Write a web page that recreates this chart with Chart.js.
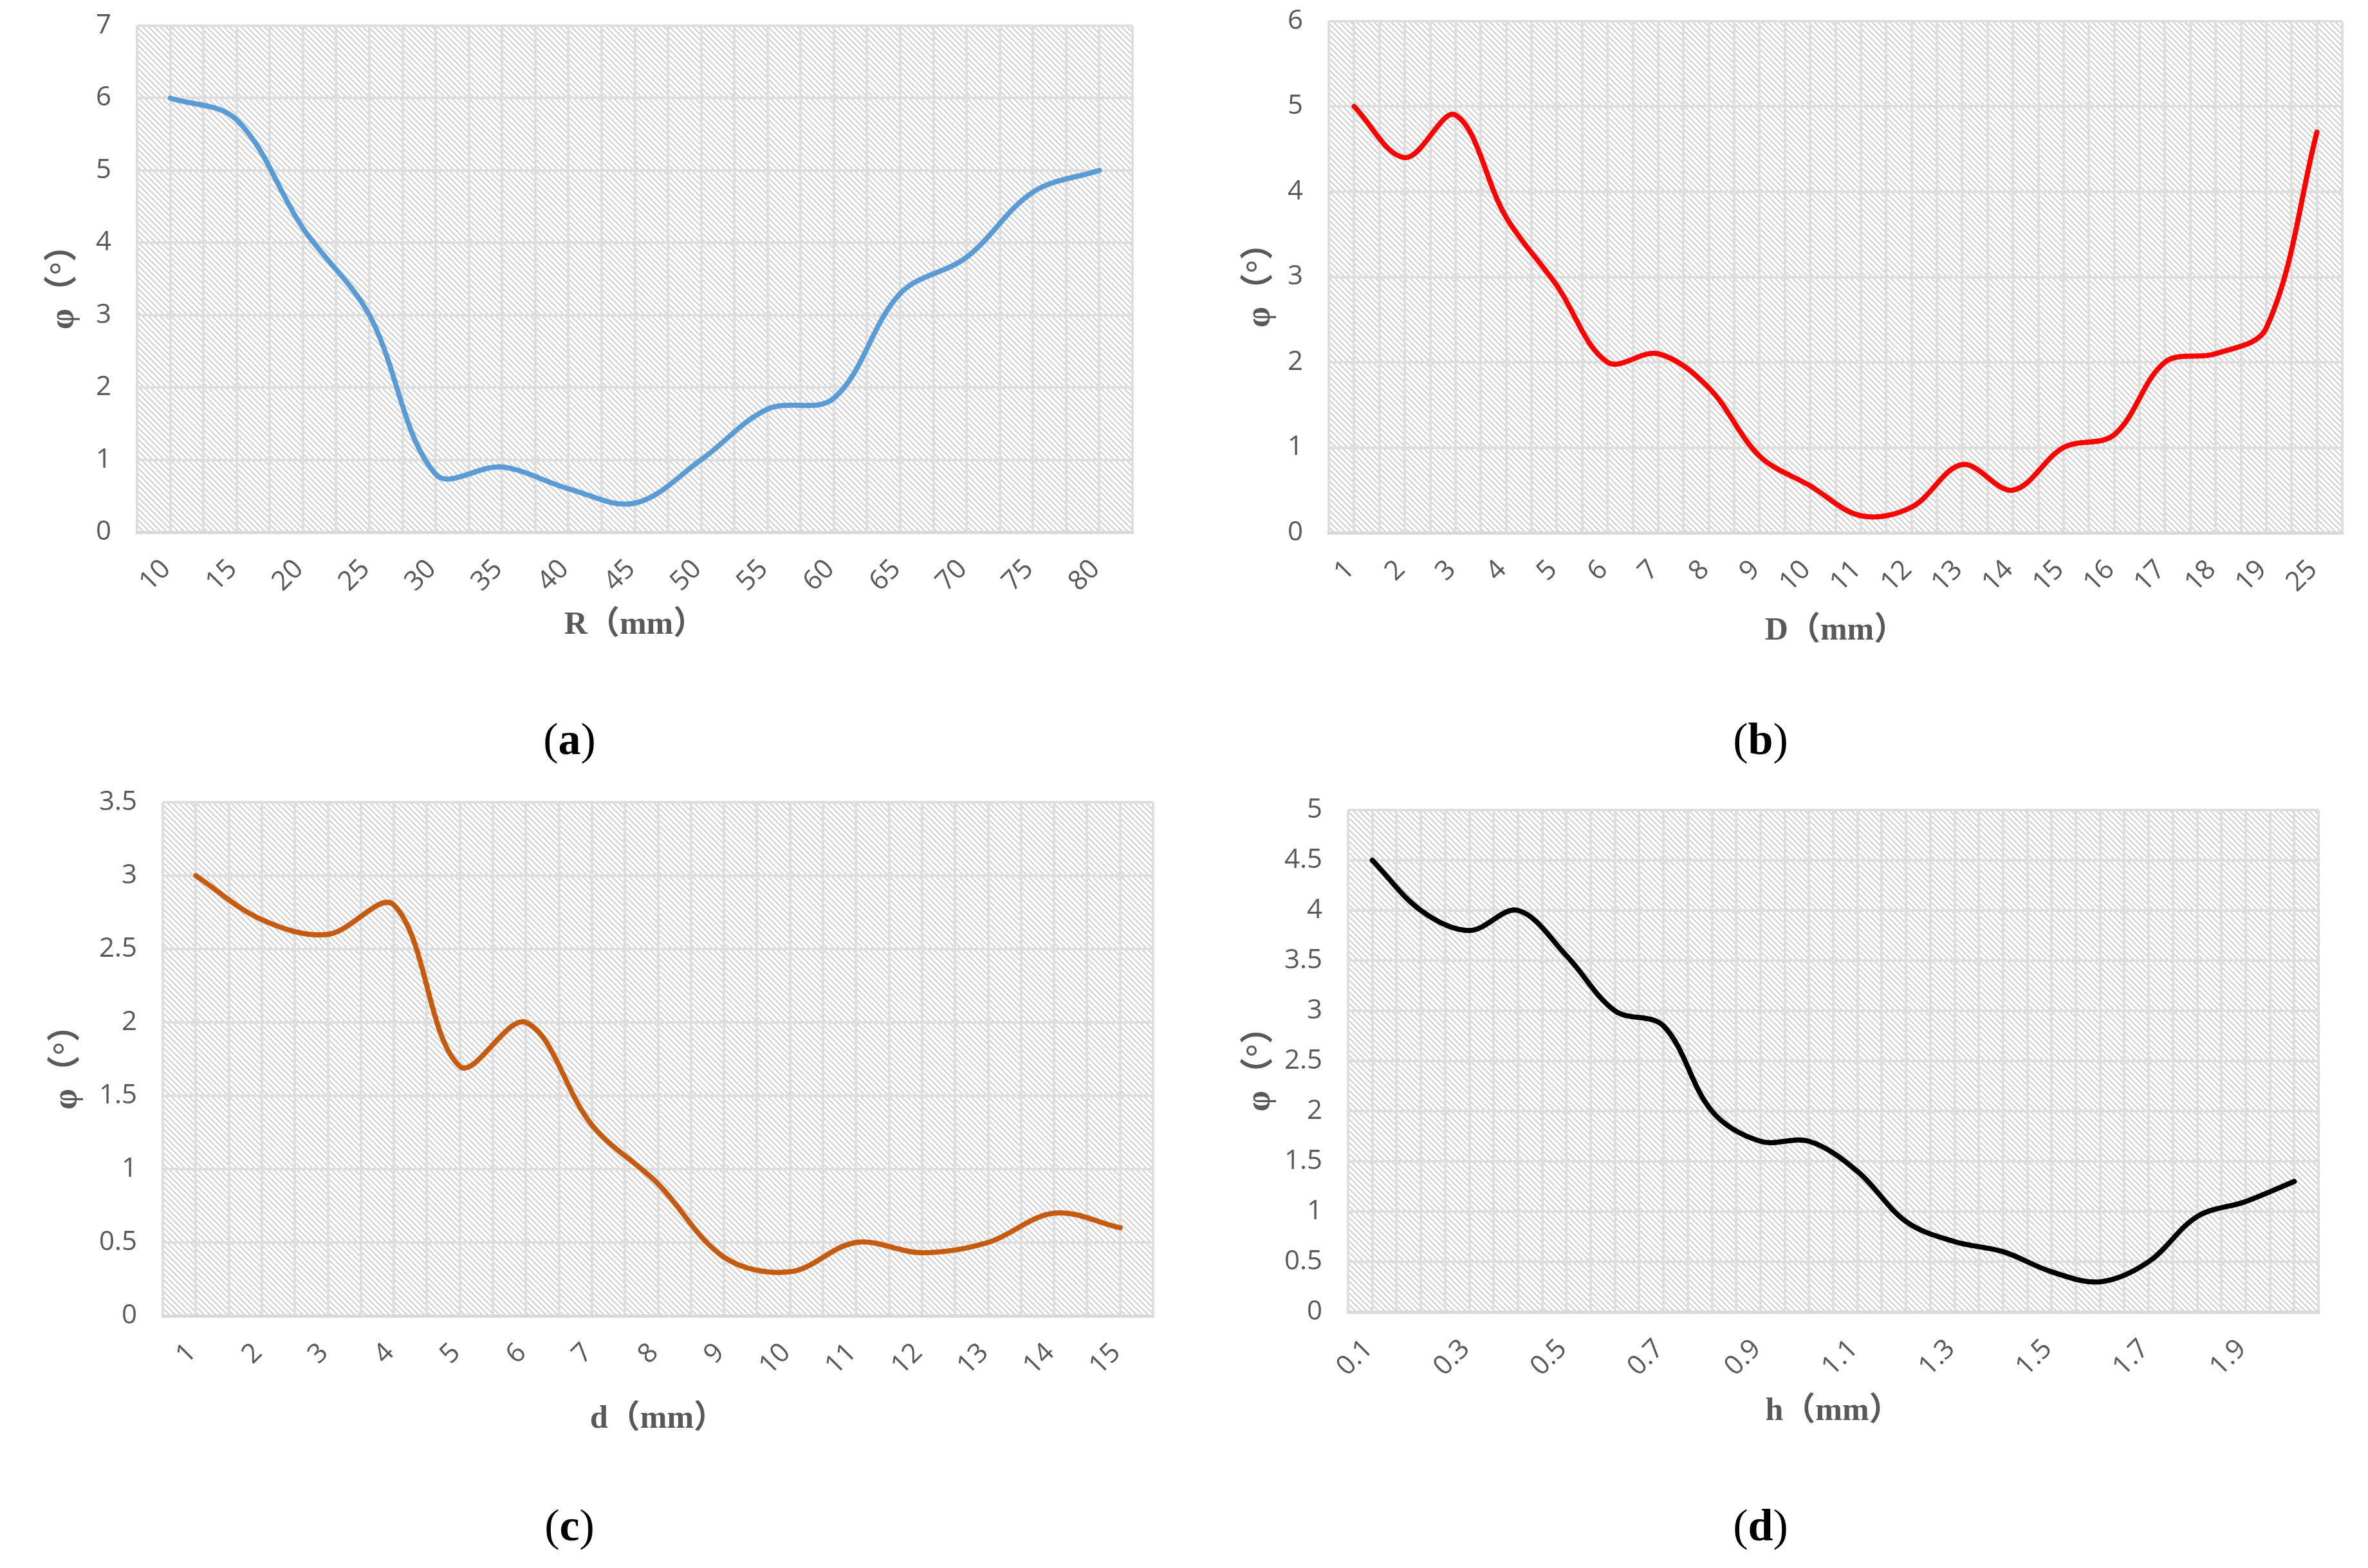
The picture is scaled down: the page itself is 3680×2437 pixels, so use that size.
<!DOCTYPE html>
<html><head><meta charset="utf-8">
<script src="https://cdn.jsdelivr.net/npm/chart.js@4.4.1/dist/chart.umd.min.js"></script>
<style>
html,body{margin:0;padding:0;background:#fff;width:3680px;height:2437px;overflow:hidden;}
.box{position:absolute;}
.cap{position:absolute;font-family:'Liberation Serif','Times New Roman',serif;font-size:70px;color:#000;transform:translate(-50%,-50%);white-space:nowrap;line-height:1;}
</style></head><body>
<div class="box" style="left:0;top:0;width:1840px;height:1100px"><canvas id="ca"></canvas></div>
<div class="box" style="left:1840px;top:0;width:1840px;height:1100px"><canvas id="cb"></canvas></div>
<div class="box" style="left:0;top:1150px;width:1840px;height:1150px"><canvas id="cc"></canvas></div>
<div class="box" style="left:1840px;top:1150px;width:1840px;height:1150px"><canvas id="cd"></canvas></div>
<div class="cap" style="left:885px;top:1149px">(<b>a</b>)</div>
<div class="cap" style="left:2736px;top:1149px">(<b>b</b>)</div>
<div class="cap" style="left:885px;top:2371px">(<b>c</b>)</div>
<div class="cap" style="left:2736px;top:2371px">(<b>d</b>)</div>
<script>
// ---- data ----
const catsR = ['10','15','20','25','30','35','40','45','50','55','60','65','70','75','80'];
const phiR  = [6.0, 5.7, 4.2, 3.0, 0.8, 0.9, 0.6, 0.4, 1.0, 1.7, 1.85, 3.3, 3.8, 4.7, 5.0];

const catsD = ['1','2','3','4','5','6','7','8','9','10','11','12','13','14','15','16','17','18','19','25'];
const phiD  = [5.0, 4.4, 4.9, 3.7, 2.9, 2.0, 2.1, 1.7, 0.9, 0.55, 0.2, 0.3, 0.8, 0.5, 1.0, 1.15, 2.0, 2.1, 2.4, 4.7];

const catsd = ['1','2','3','4','5','6','7','8','9','10','11','12','13','14','15'];
const phid  = [3.0, 2.7, 2.6, 2.8, 1.7, 2.0, 1.3, 0.9, 0.4, 0.3, 0.5, 0.43, 0.5, 0.7, 0.6];

const catsH = ['0.1','0.2','0.3','0.4','0.5','0.6','0.7','0.8','0.9','1.0','1.1','1.2','1.3','1.4','1.5','1.6','1.7','1.8','1.9','2.0'];
const phiH  = [4.5, 4.0, 3.8, 4.0, 3.55, 3.0, 2.85, 2.0, 1.7, 1.7, 1.4, 0.9, 0.7, 0.6, 0.4, 0.3, 0.5, 0.95, 1.1, 1.3];

const yMaxes = [7, 6, 3.5, 5];
const ySteps = [1, 1, 0.5, 0.5];
const xTitles = ['R（mm）', 'D（mm）', 'd（mm）', 'h（mm）'];
const yTitle = 'φ（°）';

// ---- style ----
const GRID = '#dedede';
const TICK = '#595959';
const TICKFONT = "'Open Sans','Noto Sans',sans-serif";
const TITLEFONT = "'Liberation Serif','Noto Sans CJK SC',serif";

function makePattern(ctx){
  const s = 9;
  const c = document.createElement('canvas'); c.width = s; c.height = s;
  const g = c.getContext('2d');
  g.fillStyle = '#ffffff'; g.fillRect(0,0,s,s);
  g.strokeStyle = '#d4d4d4'; g.lineWidth = 2.4;
  g.beginPath();
  g.moveTo(-1,-1); g.lineTo(s+1,s+1);
  g.moveTo(-1,s-1); g.lineTo(1,s+1);
  g.moveTo(s-1,-1); g.lineTo(s+1,1);
  g.stroke();
  return ctx.createPattern(c,'repeat');
}
const hatch = {
  id:'hatch',
  beforeDraw(chart){
    const {ctx, chartArea:a} = chart;
    ctx.save();
    ctx.fillStyle = makePattern(ctx);
    ctx.fillRect(a.left, a.top, a.right-a.left, a.bottom-a.top);
    ctx.restore();
  }
};
function zeroPad(s){ s.paddingLeft=0; s.paddingRight=0; s.paddingTop=0; s.paddingBottom=0; }

function build(id, cats, vals, color, idx, L){
  const every = L.every || 1;
  new Chart(document.getElementById(id), {
    type:'line',
    data:{ labels: cats, datasets:[{ data: vals, borderColor: color, borderWidth: 8, pointRadius: 0, tension: 0.35, fill:false, borderCapStyle:'round', borderJoinStyle:'round' }] },
    plugins:[hatch],
    options:{
      responsive:true, maintainAspectRatio:false, animation:false, devicePixelRatio:1,
      layout:{ padding:{ left:0, top:L.top, right:L.right, bottom:0 } },
      plugins:{ legend:{display:false}, tooltip:{enabled:false} },
      scales:{
        x:{ type:'category', offset:true,
          grid:{ offset:true, color:GRID, lineWidth:4, drawTicks:false },
          border:{ display:true, color:'#d9d9d9', width:5 },
          ticks:{ color:TICK, font:{family:TICKFONT, size:42}, minRotation:45, maxRotation:45, autoSkip:false,
                  padding:33, labelOffset:-6,
                  callback:(v,i)=> (i % every === 0) ? cats[i] : '' },
          title:{ display:true, text:xTitles[idx], color:'#595959', font:{family:TITLEFONT, size:50, weight:'bold'}, padding:{top:0, bottom:L.xpb} },
          afterFit:(s)=>{ s.height = L.xh; zeroPad(s); }
        },
        x2:{ type:'category', offset:true, position:'bottom',
          grid:{ offset:false, color:GRID, lineWidth:4, drawTicks:false },
          ticks:{ display:false }, border:{ display:false },
          afterFit:(s)=>{ s.height = 0; zeroPad(s); }
        },
        y:{ min:0, max:yMaxes[idx],
          ticks:{ stepSize:ySteps[idx], color:TICK, font:{family:TICKFONT, size:42}, padding:40,
                  callback:(v)=> String(Math.round(v*10)/10) },
          grid:{ color:GRID, lineWidth:4, drawTicks:false },
          border:{ display:false },
          title:{ display:true, text:yTitle, color:'#595959', font:{family:TITLEFONT, size:52, weight:'bold'}, padding:{top:L.ypt, bottom:0} },
          afterFit:(s)=>{ s.width = L.yw; zeroPad(s); }
        }
      }
    }
  });
}

build('ca', catsR, phiR, '#5B9BD5', 0, {top:40, right:80, yw:213, xh:273, xpb:98, ypt:68});
build('cb', catsD, phiD, '#FF0000', 1, {top:33, right:40, yw:225, xh:272, xpb:89, ypt:87});
build('cc', catsd, phid, '#C55A11', 2, {top:97, right:48, yw:253, xh:255, xpb:64, ypt:73});
build('cd', catsH, phiH, '#000000', 3, {top:109, right:77, yw:255, xh:261, xpb:76, ypt:87, every:2});
</script>
</body></html>
